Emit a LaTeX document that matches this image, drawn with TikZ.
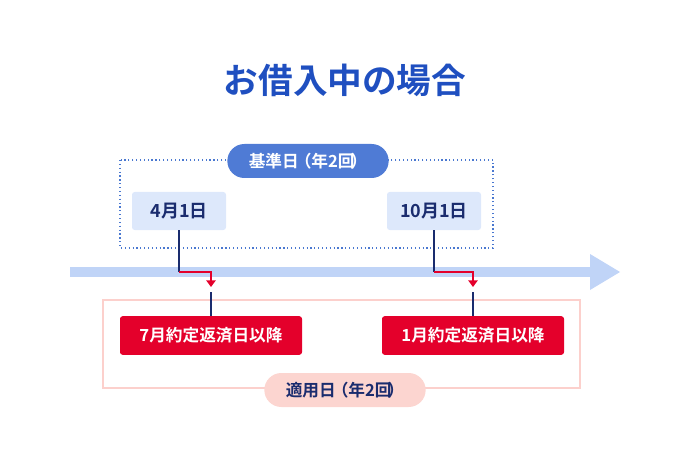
\documentclass[tikz,border=0pt]{standalone}
\usepackage{fontspec}
\setmainfont{Noto Sans CJK JP}[BoldFont={* Bold}]
\newfontfamily\jpb{Noto Sans CJK JP Bold}
\usetikzlibrary{arrows.meta}
\definecolor{tblue}{HTML}{1F4FC0}
\definecolor{navy}{HTML}{1A2C6E}
\definecolor{dotb}{HTML}{4A78D0}
\definecolor{pillb}{HTML}{4F7BD5}
\definecolor{lightb}{HTML}{DDE8FB}
\definecolor{axisb}{HTML}{C0D4F7}
\definecolor{red1}{HTML}{E4002B}
\definecolor{pinkl}{HTML}{FCD0CC}
\definecolor{pinkp}{HTML}{FCD5D0}
\begin{document}
\begin{tikzpicture}[x=0.75pt,y=-0.75pt,
  datebox/.style={fill=lightb,rounded corners=2pt,minimum width=70.5pt,minimum height=28.5pt,text=navy,font=\jpb\fontsize{13.5}{13.5}\selectfont},
  redbox/.style={fill=red1,rounded corners=2pt,minimum width=136.5pt,minimum height=29pt,text=white,font=\jpb\fontsize{12.5}{12.5}\selectfont},
  pill/.style={rounded corners=12.75pt,minimum height=25.5pt,minimum width=121pt,font=\jpb\fontsize{12.5}{12.5}\selectfont},
  navyline/.style={draw=navy,line width=1.2pt},
  redline/.style={draw=red1,line width=1.2pt}]
\useasboundingbox (0,0) rectangle (690,460);
\node[text=tblue,font=\jpb\fontsize{26}{26}\selectfont] (title) at (345,80) {お借入中の場合};
\draw[dotb,line width=0.9pt,dotted] (120,160) rectangle (493,248);
\draw[pinkl,line width=1pt] (103,300) rectangle (580,388);
\node[pill,fill=pillb,text=white] (kijun) at (308,161) {基準日\kern-3pt（年2回\kern-3pt）};
\node[pill,fill=pinkp,text=navy] (tekiyo) at (345,390) {適用日\kern-3pt（年2回\kern-3pt）};
% axis
\fill[axisb] (70,267) rectangle (592,277);
\fill[axisb] (590,254) -- (620,272) -- (590,290) -- cycle;
\node[datebox] (a1) at (179,211) {4月1日};
\node[datebox] (a2) at (434,211) {10月1日};
\node[redbox] (b1) at (211,335.5) {7月約定返済日以降};
\node[redbox] (b2) at (473,335.5) {1月約定返済日以降};
\coordinate (k1) at (179,272); \coordinate (m1) at (211,272); \coordinate (e1) at (211,287);
\coordinate (k2) at (434,272); \coordinate (m2) at (473,272); \coordinate (e2) at (473,287);
\coordinate (s1) at (211,292); \coordinate (s2) at (473,292);
\draw[navyline] (a1.south) -- (k1);
\draw[navyline] (a2.south) -- (k2);
\draw[redline,-{Triangle[length=5pt,width=7pt]}] (k1) -- (m1) -- (e1);
\draw[redline,-{Triangle[length=5pt,width=7pt]}] (k2) -- (m2) -- (e2);
\draw[navyline] (s1) -- (b1.north);
\draw[navyline] (s2) -- (b2.north);
\end{tikzpicture}
\end{document}
